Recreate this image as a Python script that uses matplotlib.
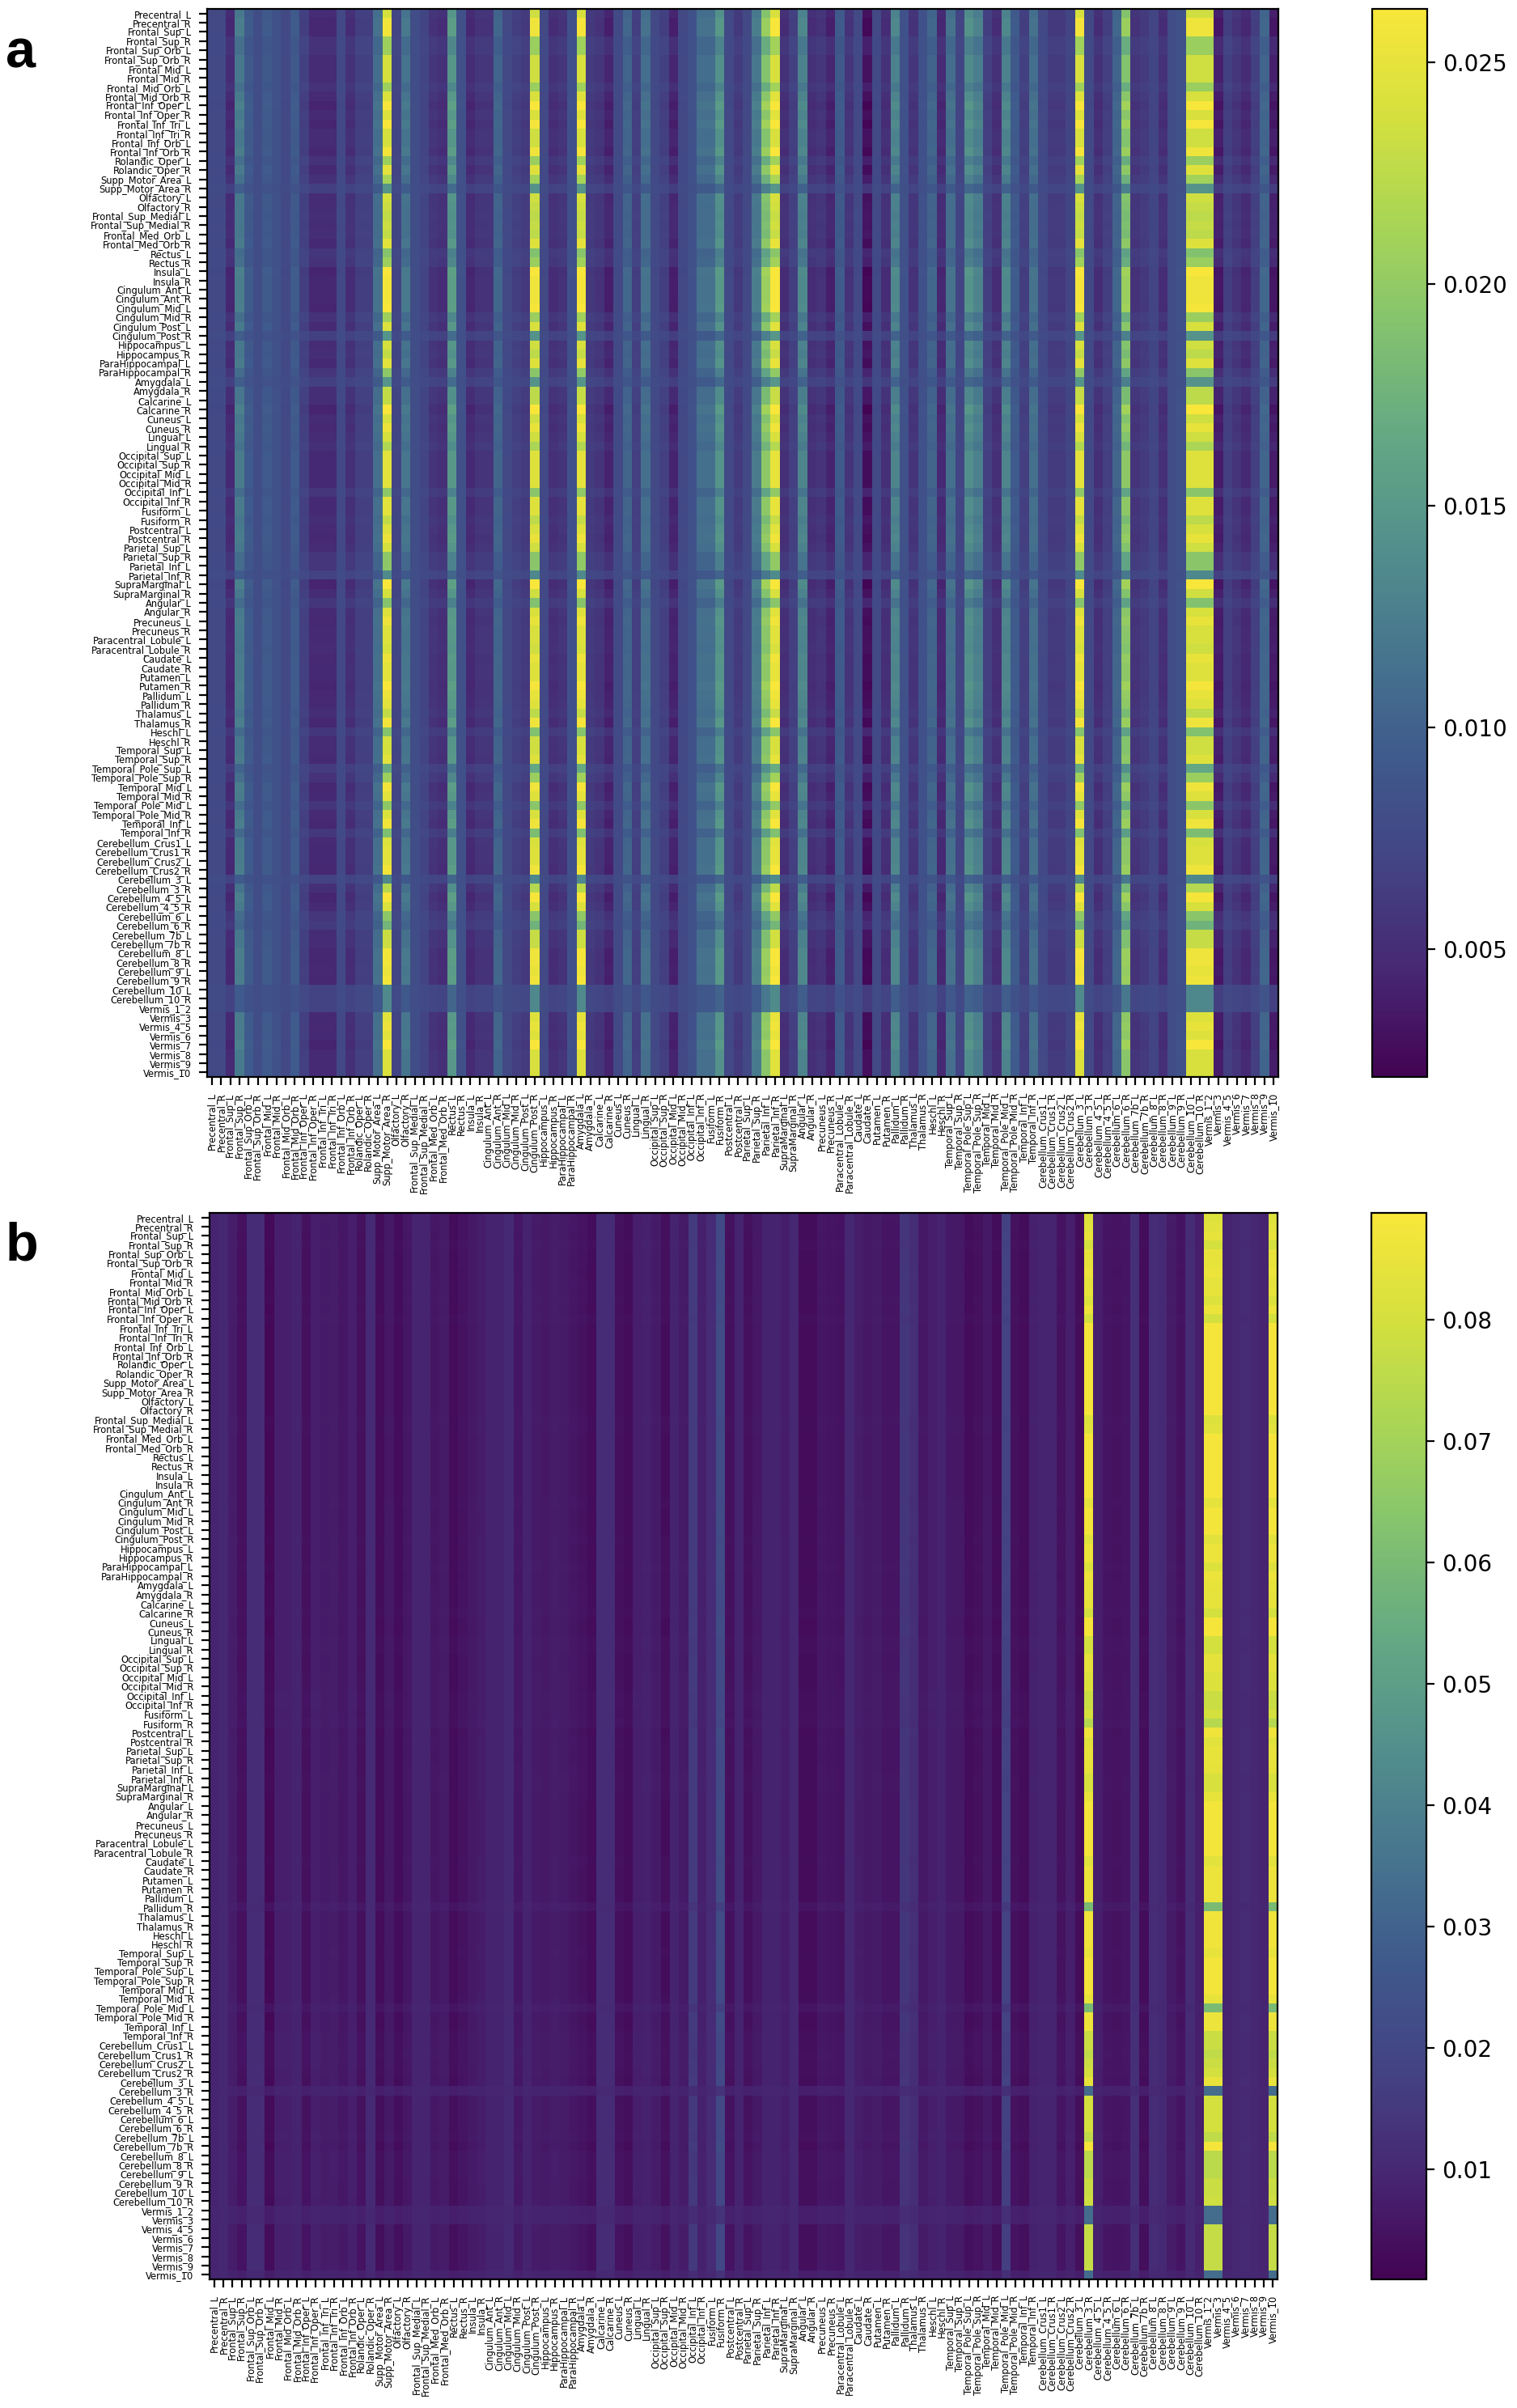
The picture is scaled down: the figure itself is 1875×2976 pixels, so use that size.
"""Two AAL region-by-region attention heatmaps (a, b) with colorbars."""

import matplotlib

matplotlib.use("Agg")
import matplotlib.pyplot as plt
import numpy as np
from matplotlib.colors import LinearSegmentedColormap

FIG_W, FIG_H = 1875, 2976
DPI = 200
TICK_FONT = 4.15

# the reference's viridis is washed out, so the plain colormap looks too vivid
MUTED_VIRIDIS = LinearSegmentedColormap.from_list("muted_viridis", [
    "#440454", "#472873", "#434484", "#3f5a8c", "#47768e", "#53908c",
    "#64a884", "#82c26f", "#a8d556", "#d4e03e", "#f8e63a",
])

PAIRED_REGIONS = [
    "Precentral", "Frontal_Sup", "Frontal_Sup_Orb", "Frontal_Mid", "Frontal_Mid_Orb",
    "Frontal_Inf_Oper", "Frontal_Inf_Tri", "Frontal_Inf_Orb", "Rolandic_Oper",
    "Supp_Motor_Area", "Olfactory", "Frontal_Sup_Medial", "Frontal_Med_Orb", "Rectus",
    "Insula", "Cingulum_Ant", "Cingulum_Mid", "Cingulum_Post", "Hippocampus",
    "ParaHippocampal", "Amygdala", "Calcarine", "Cuneus", "Lingual", "Occipital_Sup",
    "Occipital_Mid", "Occipital_Inf", "Fusiform", "Postcentral", "Parietal_Sup",
    "Parietal_Inf", "SupraMarginal", "Angular", "Precuneus", "Paracentral_Lobule",
    "Caudate", "Putamen", "Pallidum", "Thalamus", "Heschl", "Temporal_Sup",
    "Temporal_Pole_Sup", "Temporal_Mid", "Temporal_Pole_Mid", "Temporal_Inf",
    "Cerebellum_Crus1", "Cerebellum_Crus2", "Cerebellum_3", "Cerebellum_4_5",
    "Cerebellum_6", "Cerebellum_7b", "Cerebellum_8", "Cerebellum_9", "Cerebellum_10",
]
VERMIS = ["Vermis_1_2", "Vermis_3", "Vermis_4_5", "Vermis_6", "Vermis_7", "Vermis_8", "Vermis_9", "Vermis_10"]
LABELS = [f"{r}_{side}" for r in PAIRED_REGIONS for side in "LR"] + VERMIS

# Values: one level per column (in a high-contrast row) and
# the level of the brightest column in each row. Cells are rebuilt from these two.
A_COL_LEVEL = [
    .0075, .0075, .0045, .0125, .0095, .0080, .0095, .0085, .0075, .0095,
    .0065, .0045, .0045, .0045, .0075, .0050, .0065, .0065, .0115, .0258,
    .0070, .0120, .0080, .0070, .0055, .0050, .0155, .0085, .0045, .0055,
    .0055, .0105, .0075, .0065, .0060, .0255, .0075, .0050, .0055, .0085,
    .0260, .0060, .0055, .0040, .0075, .0105, .0065, .0115, .0075, .0065,
    .0040, .0075, .0085, .0115, .0115, .0150, .0075, .0060, .0075, .0125,
    .0205, .0262, .0050, .0065, .0135, .0050, .0055, .0040, .0095, .0055,
    .0075, .0025, .0075, .0050, .0135, .0085, .0055, .0085, .0105, .0045,
    .0115, .0070, .0145, .0130, .0065, .0050, .0135, .0095, .0065, .0115,
    .0075, .0060, .0060, .0070, .0260, .0075, .0050, .0065, .0105, .0205,
    .0055, .0060, .0070, .0050, .0080, .0085, .0255, .0255, .0255, .0035,
    .0065, .0055, .0045, .0065, .0105, .0035,
]
A_ROW_PEAK = [
    .0235, .0255, .0255, .0205, .0205, .0235, .0235, .0235, .0205, .0240,
    .0262, .0240, .0260, .0235, .0235, .0255, .0205, .0245, .0210, .0145,
    .0235, .0230, .0225, .0230, .0225, .0245, .0190, .0205, .0262, .0255,
    .0255, .0255, .0260, .0205, .0240, .0145, .0235, .0225, .0245, .0195,
    .0145, .0225, .0225, .0262, .0235, .0250, .0235, .0215, .0245, .0245,
    .0245, .0245, .0195, .0245, .0245, .0225, .0240, .0250, .0235, .0195,
    .0195, .0135, .0262, .0235, .0190, .0240, .0250, .0240, .0240, .0235,
    .0250, .0245, .0245, .0260, .0250, .0245, .0225, .0255, .0190, .0235,
    .0235, .0245, .0165, .0205, .0255, .0245, .0195, .0240, .0255, .0185,
    .0240, .0245, .0245, .0255, .0135, .0220, .0260, .0240, .0195, .0175,
    .0230, .0230, .0255, .0255, .0250, .0255, .0135, .0135, .0135, .0245,
    .0250, .0245, .0262, .0240, .0240, .0240,
]
B_COL_LEVEL = [
    .0090, .0095, .0070, .0040, .0115, .0115, .0020, .0075, .0075, .0085,
    .0040, .0075, .0065, .0070, .0055, .0075, .0040, .0105, .0030, .0060,
    .0030, .0055, .0090, .0090, .0055, .0065, .0030, .0045, .0060, .0070,
    .0085, .0085, .0105, .0055, .0085, .0065, .0060, .0070, .0065, .0055,
    .0045, .0030, .0115, .0115, .0040, .0030, .0075, .0080, .0065, .0035,
    .0085, .0065, .0160, .0080, .0115, .0220, .0040, .0085, .0040, .0060,
    .0085, .0085, .0070, .0095, .0030, .0030, .0055, .0050, .0045, .0095,
    .0070, .0060, .0065, .0050, .0050, .0145, .0120, .0060, .0075, .0085,
    .0060, .0060, .0030, .0040, .0060, .0030, .0185, .0040, .0030, .0080,
    .0090, .0090, .0045, .0075, .0030, .0888, .0075, .0050, .0045, .0050,
    .0125, .0030, .0115, .0105, .0065, .0045, .0110, .0075, .0888, .0888,
    .0085, .0095, .0110, .0095, .0090, .0888,
]
B_ROW_PEAK = [
    .082, .083, .085, .080, .085, .085, .086, .084, .085, .082,
    .086, .080, .088, .088, .088, .088, .088, .088, .088, .088,
    .088, .088, .082, .083, .088, .088, .088, .088, .088, .088,
    .088, .084, .0875, .0875, .0875, .083, .086, .086, .082, .086,
    .085, .084, .0845, .080, .088, .088, .080, .080, .084, .084,
    .082, .082, .078, .078, .080, .074, .087, .083, .085, .085,
    .084, .081, .081, .085, .0875, .0875, .0875, .0875, .0875, .0875,
    .083, .086, .086, .086, .086, .060, .087, .087, .087, .087,
    .085, .0875, .0875, .0875, .0875, .085, .060, .086, .086, .078,
    .078, .076, .078, .080, .085, .033, .080, .080, .080, .080,
    .076, .088, .075, .075, .075, .078, .078, .079, .033, .033,
    .077, .077, .077, .077, .077, .033,
]

A_LIMITS = (0.00212, 0.0262)
B_LIMITS = (0.0009, 0.0888)
A_TICKS = [0.005, 0.010, 0.015, 0.020, 0.025]
B_TICKS = [0.01, 0.02, 0.03, 0.04, 0.05, 0.06, 0.07, 0.08]


def rebuild_matrix(col_level, row_peak, base, full_peak):
    # a low-peak row pulls every column towards the base level
    contrast = (np.array(row_peak) - base) / (full_peak - base)
    return base + (np.array(col_level) - base) * contrast[:, None]


def pixel_axes(fig, left, right, top, bottom):
    return fig.add_axes([left / FIG_W, 1 - bottom / FIG_H, (right - left) / FIG_W, (bottom - top) / FIG_H])


def draw_panel(fig, matrix, limits, ticks, letter, letter_y, box, cbar_box):
    ax = pixel_axes(fig, *box)
    im = ax.imshow(matrix, cmap=MUTED_VIRIDIS, vmin=limits[0], vmax=limits[1], aspect="auto")
    positions = np.arange(len(LABELS))
    ax.set_xticks(positions)
    ax.set_xticklabels(LABELS, rotation=90, fontsize=TICK_FONT)
    ax.set_yticks(positions)
    ax.set_yticklabels(LABELS, fontsize=TICK_FONT)

    cax = pixel_axes(fig, *cbar_box)
    cbar = fig.colorbar(im, cax=cax)
    cbar.set_ticks(ticks)
    cbar.ax.tick_params(labelsize=10)

    fig.text(7 / FIG_W, 1 - letter_y / FIG_H, letter, fontsize=24, fontweight="bold",
             family="Liberation Sans", ha="left", va="baseline")


def main():
    fig = plt.figure(figsize=(FIG_W / DPI, FIG_H / DPI), dpi=DPI)
    draw_panel(fig, rebuild_matrix(A_COL_LEVEL, A_ROW_PEAK, 0.0080, 0.0255), A_LIMITS, A_TICKS,
               "a", 83, (256, 1580, 11, 1331), (1696, 1764, 11, 1331))
    draw_panel(fig, rebuild_matrix(B_COL_LEVEL, B_ROW_PEAK, 0.0095, 0.0888), B_LIMITS, B_TICKS,
               "b", 1557, (259, 1579, 1499, 2817), (1695, 1763, 1499, 2817))
    fig.savefig("out.png", dpi=DPI)
    plt.close(fig)


if __name__ == "__main__":
    main()
